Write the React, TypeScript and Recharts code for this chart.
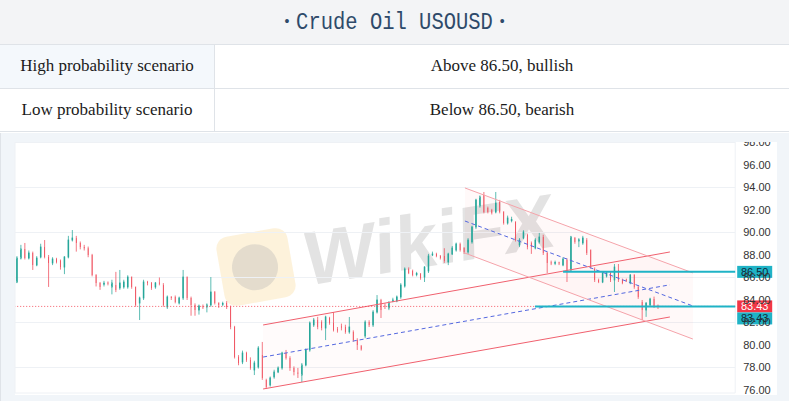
import React from 'react';
import { ComposedChart, Bar, XAxis, YAxis, CartesianGrid, ReferenceLine, Area } from 'recharts';

// ---- Data (163 candles) ----
const opens = [85.6,87.73,88.53,87.73,88.18,87.11,87.82,88.71,87.82,87.29,87.64,87.5,86.93,87.82,89.33,89.5,89.07,88.71,88.6,88.0,86.22,85.51,85.4,85.55,85.16,85.33,85.07,85.16,85.16,86.04,85.16,83.73,84.18,85.6,85.51,85.16,85.55,85.33,83.38,84.27,84.27,83.73,84.18,86.04,84.18,83.56,83.11,83.45,83.38,83.56,84.71,83.73,83.6,83.73,83.38,81.6,78.93,78.49,79.29,78.67,77.78,78.04,79.11,76.89,76.44,77.16,77.6,77.96,79.29,78.84,77.96,77.55,77.33,78.22,79.56,81.78,82.22,82.04,81.51,82.4,81.96,81.4,81.65,81.6,81.16,81.16,80.44,79.9,80.8,82.04,81.78,82.93,84.0,83.5,83.29,83.9,83.91,84.27,85.24,86.76,86.58,86.25,86.31,86.04,86.58,88.0,88.09,87.91,87.91,87.38,88.09,88.44,88.98,88.62,88.27,89.16,90.49,92.36,93.33,92.18,92.0,91.82,92.71,91.82,90.84,91.05,90.93,88.89,89.51,89.78,89.07,88.62,89.16,89.6,88.18,87.35,87.25,87.35,87.11,87.56,86.67,89.51,89.25,89.07,89.33,88.44,86.76,85.78,85.6,86.13,86.4,85.78,86.67,85.78,85.82,85.51,86.22,85.16,83.82,83.11,83.56,84.09,83.5];
const highs = [87.9,88.9,89.07,88.4,88.3,87.9,89.0,89.33,88.0,87.8,87.75,87.6,87.9,89.7,90.22,89.7,89.2,88.9,88.75,88.1,86.3,85.6,85.7,85.65,85.8,86.5,86.67,85.8,86.2,86.1,85.2,84.3,85.8,85.7,85.6,85.6,86.0,85.5,84.4,84.35,84.4,84.3,86.67,86.1,84.3,83.7,83.6,83.6,83.7,86.04,84.8,83.8,83.85,83.9,83.5,81.7,79.1,79.5,79.4,78.9,78.6,79.9,80.27,77.0,77.2,77.8,78.1,79.4,79.56,79.0,78.1,77.96,78.4,79.7,82.1,82.4,82.5,82.2,82.6,82.5,82.93,81.6,81.9,81.8,82.49,81.3,80.6,80.0,82.2,82.2,83.1,84.44,84.1,83.7,83.9,84.2,84.4,85.5,86.9,86.9,86.7,86.5,86.4,87.0,88.1,88.3,88.2,88.0,88.6,88.2,88.8,89.1,89.1,88.7,89.5,90.6,93.0,93.3,93.6,92.3,92.1,93.6,92.9,91.9,91.5,91.4,91.0,89.5,90.2,89.9,89.2,89.5,89.96,89.8,88.3,87.5,87.5,87.4,87.8,87.7,89.7,89.6,89.5,89.7,89.5,88.5,86.9,85.9,86.5,86.5,86.5,87.2,87.2,85.9,85.9,86.3,86.3,85.3,84.0,83.8,84.2,84.3,83.6];
const lows = [85.5,87.6,87.6,87.6,86.67,87.0,87.7,87.7,85.16,87.1,87.25,86.7,86.3,87.7,89.2,88.3,88.5,88.4,87.8,86.1,85.2,84.9,85.2,85.3,84.5,84.7,84.9,85.0,85.0,85.0,83.4,82.22,84.0,85.3,84.9,85.0,85.3,83.4,83.2,84.0,83.7,83.6,84.0,84.0,82.6,82.6,82.7,83.2,82.9,83.4,83.6,83.3,83.45,83.2,81.4,78.8,78.2,78.3,78.5,77.8,77.33,77.9,76.9,76.09,76.3,77.0,77.5,77.8,78.7,77.7,77.3,77.07,76.71,78.1,79.4,81.6,81.4,81.3,80.44,81.8,81.2,81.1,81.3,81.0,81.0,80.3,79.56,79.5,80.6,81.6,81.6,82.8,82.4,83.2,83.1,83.8,83.8,84.1,85.1,86.3,86.1,86.1,85.8,85.6,86.4,87.9,87.8,87.6,87.3,87.1,88.0,88.3,88.3,88.1,88.1,89.0,90.3,92.2,91.7,91.7,91.6,91.7,91.7,90.7,90.7,90.9,89.2,88.7,89.4,88.5,88.1,88.5,89.0,88.0,86.4,87.1,87.1,87.1,87.0,85.6,86.5,89.0,88.7,88.9,88.0,86.8,85.6,85.5,85.5,86.0,85.6,84.71,85.6,85.4,85.6,85.4,85.0,84.1,82.22,82.5,83.4,83.3,83.2];
const closes = [87.73,88.53,87.73,88.18,87.11,87.73,88.71,87.82,87.29,87.64,87.38,86.93,87.82,89.33,89.51,89.07,88.71,88.6,88.0,86.22,85.51,85.16,85.5,85.45,85.51,84.89,85.51,85.6,86.04,85.16,83.56,84.18,85.6,85.51,85.07,85.51,85.45,83.56,84.27,84.18,83.82,84.18,86.04,84.18,83.56,83.11,83.47,83.35,83.56,84.71,83.73,83.56,83.7,83.38,81.6,78.93,78.4,79.29,78.67,77.96,78.4,79.73,77.07,76.27,77.07,77.6,77.96,79.29,78.84,77.96,77.6,77.45,78.22,79.56,81.96,82.22,81.6,81.51,82.49,81.96,81.33,81.3,81.55,81.16,81.6,80.44,80.0,79.6,82.04,81.78,82.93,84.0,83.11,83.4,83.73,84.0,84.27,85.33,86.76,86.4,86.22,86.35,85.96,86.93,87.91,88.09,87.91,87.73,87.47,88.09,88.62,88.98,88.44,88.27,89.33,90.49,92.89,93.16,91.82,91.82,91.73,92.62,91.82,90.84,91.29,91.15,89.33,89.33,90.04,88.71,88.71,89.33,89.6,88.18,87.29,87.25,87.35,87.25,87.64,86.49,89.6,89.16,89.35,89.51,88.18,86.93,85.78,85.6,86.4,86.4,85.78,86.93,85.78,85.51,85.72,86.22,85.16,84.27,83.11,83.73,84.09,83.47,83.43];

const priceTicks = [76, 78, 80, 82, 84, 86, 88, 90, 92, 94, 96, 98];
const timeGridTicks = [12.9, 27.8, 43, 58.2, 72.8, 87.2, 101.8, 118.3, 132.9, 148.1, 163, 178.2];

const lastPrice = 83.43;
const keyLevel = 86.5;
const keyLevelStart = 138; // bar index where the 86.50 line starts
const lastLevelStart = 130.9; // bar index where the 83.43 cyan line starts

// channel endpoints [barIndex, price]
const ascUpper = [[62.2, 81.78], [165.0, 88.27]];
const ascMid = [[62.2, 78.93], [165.0, 85.35]];
const ascLower = [[62.2, 76.09], [165.0, 82.49]];
const descUpper = [[113.2, 93.96], [170.8, 86.41]];
const descMid = [[113.2, 91.02], [170.8, 83.47]];
const descLower = [[113.2, 88.17], [170.8, 80.53]];

const tableTitle = 'Crude Oil USOUSD';
const tableRows = [
  ['High probability scenario', 'Above 86.50, bullish'],
  ['Low probability scenario', 'Below 86.50, bearish'],
];

const candles = opens.map((o, i) => ({ i, o, h: highs[i], l: lows[i], c: closes[i] }));
const ascFill = [
  { i: ascUpper[0][0], r: [ascLower[0][1], ascUpper[0][1]] },
  { i: ascUpper[1][0], r: [ascLower[1][1], ascUpper[1][1]] },
];
const descFill = [
  { i: descUpper[0][0], r: [descLower[0][1], descUpper[0][1]] },
  { i: descUpper[1][0], r: [descLower[1][1], descUpper[1][1]] },
];

const UP = '#26a69a';
const DOWN = '#ef4a58';
const CYAN = '#1fb3c6';

const Candle = (props: any) => {
  const { x, y, width, height, payload } = props;
  if (!payload || height == null) return null;
  const { o, h, l, c } = payload;
  const range = h - l || 1;
  const k = height / range;
  const top = y + (h - Math.max(o, c)) * k;
  const bot = y + (h - Math.min(o, c)) * k;
  const up = c >= o;
  const col = up ? UP : DOWN;
  const cx = x + width / 2;
  const bh = Math.max(1, bot - top);
  return (
    <g>
      <line x1={cx} x2={cx} y1={y} y2={y + height} stroke={col} strokeOpacity={0.75} strokeWidth={1} />
      <rect x={x} y={top} width={width} height={bh} fill={up ? '#7fcdbf' : col} stroke={col} strokeWidth={up ? 0.8 : 0} />
    </g>
  );
};

const priceTag = (value: number, bg: string, fg: string, dy: number) => (props: any) => {
  const vb = props.viewBox || {};
  const x = vb.x + vb.width + 2;
  const y = vb.y + dy;
  return (
    <g>
      <rect x={x} y={y - 6} width={35} height={12} fill={bg} />
      <text x={x + 17.5} y={y} dy="0.36em" textAnchor="middle" fontSize={11} fill={fg} fontFamily="'Liberation Sans', Arial, sans-serif">
        {value.toFixed(2)}
      </text>
    </g>
  );
};

const seg = (p: number[][]) => [{ x: p[0][0], y: p[0][1] }, { x: p[1][0], y: p[1][1] }];

export default function App() {
  return (
    <div style={{ position: 'absolute', left: 0, top: 0, width: 789, height: 401, background: '#fff', overflow: 'hidden', fontFamily: "'Liberation Serif', serif" }}>
      {/* Table */}
      <div style={{ position: 'absolute', left: 0, top: 0, width: 789, height: 45, background: '#f3f4f6', borderBottom: '1px solid #dfe3e8', boxSizing: 'border-box', display: 'flex', alignItems: 'center', justifyContent: 'center', color: '#2e4a6a', fontFamily: "'Liberation Mono', monospace", fontSize: 20.5 }}>
        <span style={{ fontSize: 14, marginRight: 5 }}>•</span>
        <span style={{ display: 'inline-block', transform: 'scaleY(1.15)' }}>{tableTitle}</span>
        <span style={{ fontSize: 14, marginLeft: 5 }}>•</span>
      </div>
      {tableRows.map((r, k) => (
        <div key={k} style={{ position: 'absolute', left: 0, top: 45 + k * 43.5, width: 789, height: 43.5, borderBottom: '1px solid #dfe3e8', boxSizing: 'border-box', fontSize: 17, color: '#1b1b1b' }}>
          <div style={{ position: 'absolute', left: 0, top: 0, width: 215, height: '100%', background: k === 0 ? '#f4f8fc' : '#fff', borderRight: '1px solid #dfe3e8', boxSizing: 'border-box', display: 'flex', alignItems: 'center', justifyContent: 'center' }}>{r[0]}</div>
          <div style={{ position: 'absolute', left: 215, top: 0, right: 0, height: '100%', display: 'flex', alignItems: 'center', justifyContent: 'center' }}>{r[1]}</div>
        </div>
      ))}
      {/* Chart frame */}
      <div style={{ position: 'absolute', left: 0, top: 133, width: 789, height: 268, background: '#f1f5f9', borderLeft: '1px solid #dfe3e8', boxSizing: 'border-box' }} />
      <div style={{ position: 'absolute', left: 15, top: 142, width: 762, height: 253, background: '#fff' }} />
      {/* Watermark */}
      <div style={{ position: 'absolute', left: 220, top: 232, width: 72, height: 70, borderRadius: 12, background: 'rgba(252,232,190,0.55)', transform: 'rotate(-10deg)' }}>
        <div style={{ position: 'absolute', left: 12, top: 12, width: 46, height: 46, borderRadius: 23, background: 'rgba(180,180,180,0.35)' }} />
      </div>
      <div style={{ position: 'absolute', left: 305, top: 222, fontFamily: "'Liberation Sans', Arial, sans-serif", fontWeight: 700, fontSize: 76, color: 'rgba(185,185,185,0.4)', transform: 'rotate(-9deg) skewX(-8deg)', transformOrigin: 'left bottom', whiteSpace: 'nowrap', lineHeight: 1 }}>WikiFX</div>
      {/* Chart */}
      <div style={{ position: 'absolute', left: 0, top: 142, width: 789, height: 256, overflow: 'hidden' }}>
        <div style={{ position: 'absolute', left: 0, top: -142 }}>
          <ComposedChart width={789} height={401} data={candles} margin={{ top: 141, right: 3.8, bottom: 8, left: 15 }}>
            <CartesianGrid stroke="#eef1f5" vertical horizontal />
            <XAxis dataKey="i" type="number" domain={[-0.5, 181.5]} ticks={timeGridTicks} tick={false} axisLine={false} tickLine={false} height={0} allowDataOverflow />
            <YAxis orientation="right" type="number" domain={[75.7333, 98.1333]} ticks={priceTicks} allowDataOverflow width={50} axisLine={false} tickLine={false} tickMargin={2}
              tick={{ fontSize: 11, fill: '#333', fontFamily: "'Liberation Sans', Arial, sans-serif", textAnchor: 'start' }}
              tickFormatter={(v: number) => v.toFixed(2)} />
            <Area data={ascFill} dataKey="r" type="linear" stroke="none" fill="#f23645" fillOpacity={0.02} isAnimationActive={false} />
            <Area data={descFill} dataKey="r" type="linear" stroke="none" fill="#f23645" fillOpacity={0.03} isAnimationActive={false} />
            <ReferenceLine segment={seg(ascUpper)} stroke="#f0606e" strokeWidth={1} ifOverflow="visible" />
            <ReferenceLine segment={seg(ascLower)} stroke="#f0606e" strokeWidth={1} ifOverflow="visible" />
            <ReferenceLine segment={seg(ascMid)} stroke="#5468e0" strokeWidth={1} strokeDasharray="4 3" ifOverflow="visible" />
            <ReferenceLine segment={seg(descUpper)} stroke="#f5a3aa" strokeWidth={1} ifOverflow="visible" />
            <ReferenceLine segment={seg(descLower)} stroke="#f5a3aa" strokeWidth={1} ifOverflow="visible" />
            <ReferenceLine segment={seg(descMid)} stroke="#5468e0" strokeWidth={1} strokeDasharray="4 3" ifOverflow="visible" />
            <ReferenceLine y={lastPrice} stroke="#f23645" strokeOpacity={0.8} strokeDasharray="1 2" label={priceTag(lastPrice, '#f23645', '#fff', 0)} />
            <Bar dataKey={(d: any) => [d.l, d.h]} barSize={3} shape={Candle} isAnimationActive={false} />
            <ReferenceLine segment={[{ x: keyLevelStart, y: keyLevel }, { x: 181.5, y: keyLevel }]} stroke={CYAN} strokeWidth={2} ifOverflow="visible" />
            <ReferenceLine segment={[{ x: lastLevelStart, y: lastPrice }, { x: 181.5, y: lastPrice }]} stroke={CYAN} strokeWidth={2} ifOverflow="visible" />
            <ReferenceLine y={keyLevel} stroke="none" label={priceTag(keyLevel, CYAN, '#0f2a3a', 0)} />
            <ReferenceLine y={lastPrice} stroke="none" label={priceTag(lastPrice, CYAN, '#0f2a3a', 12)} />
          </ComposedChart>
        </div>
      </div>
    </div>
  );
}
